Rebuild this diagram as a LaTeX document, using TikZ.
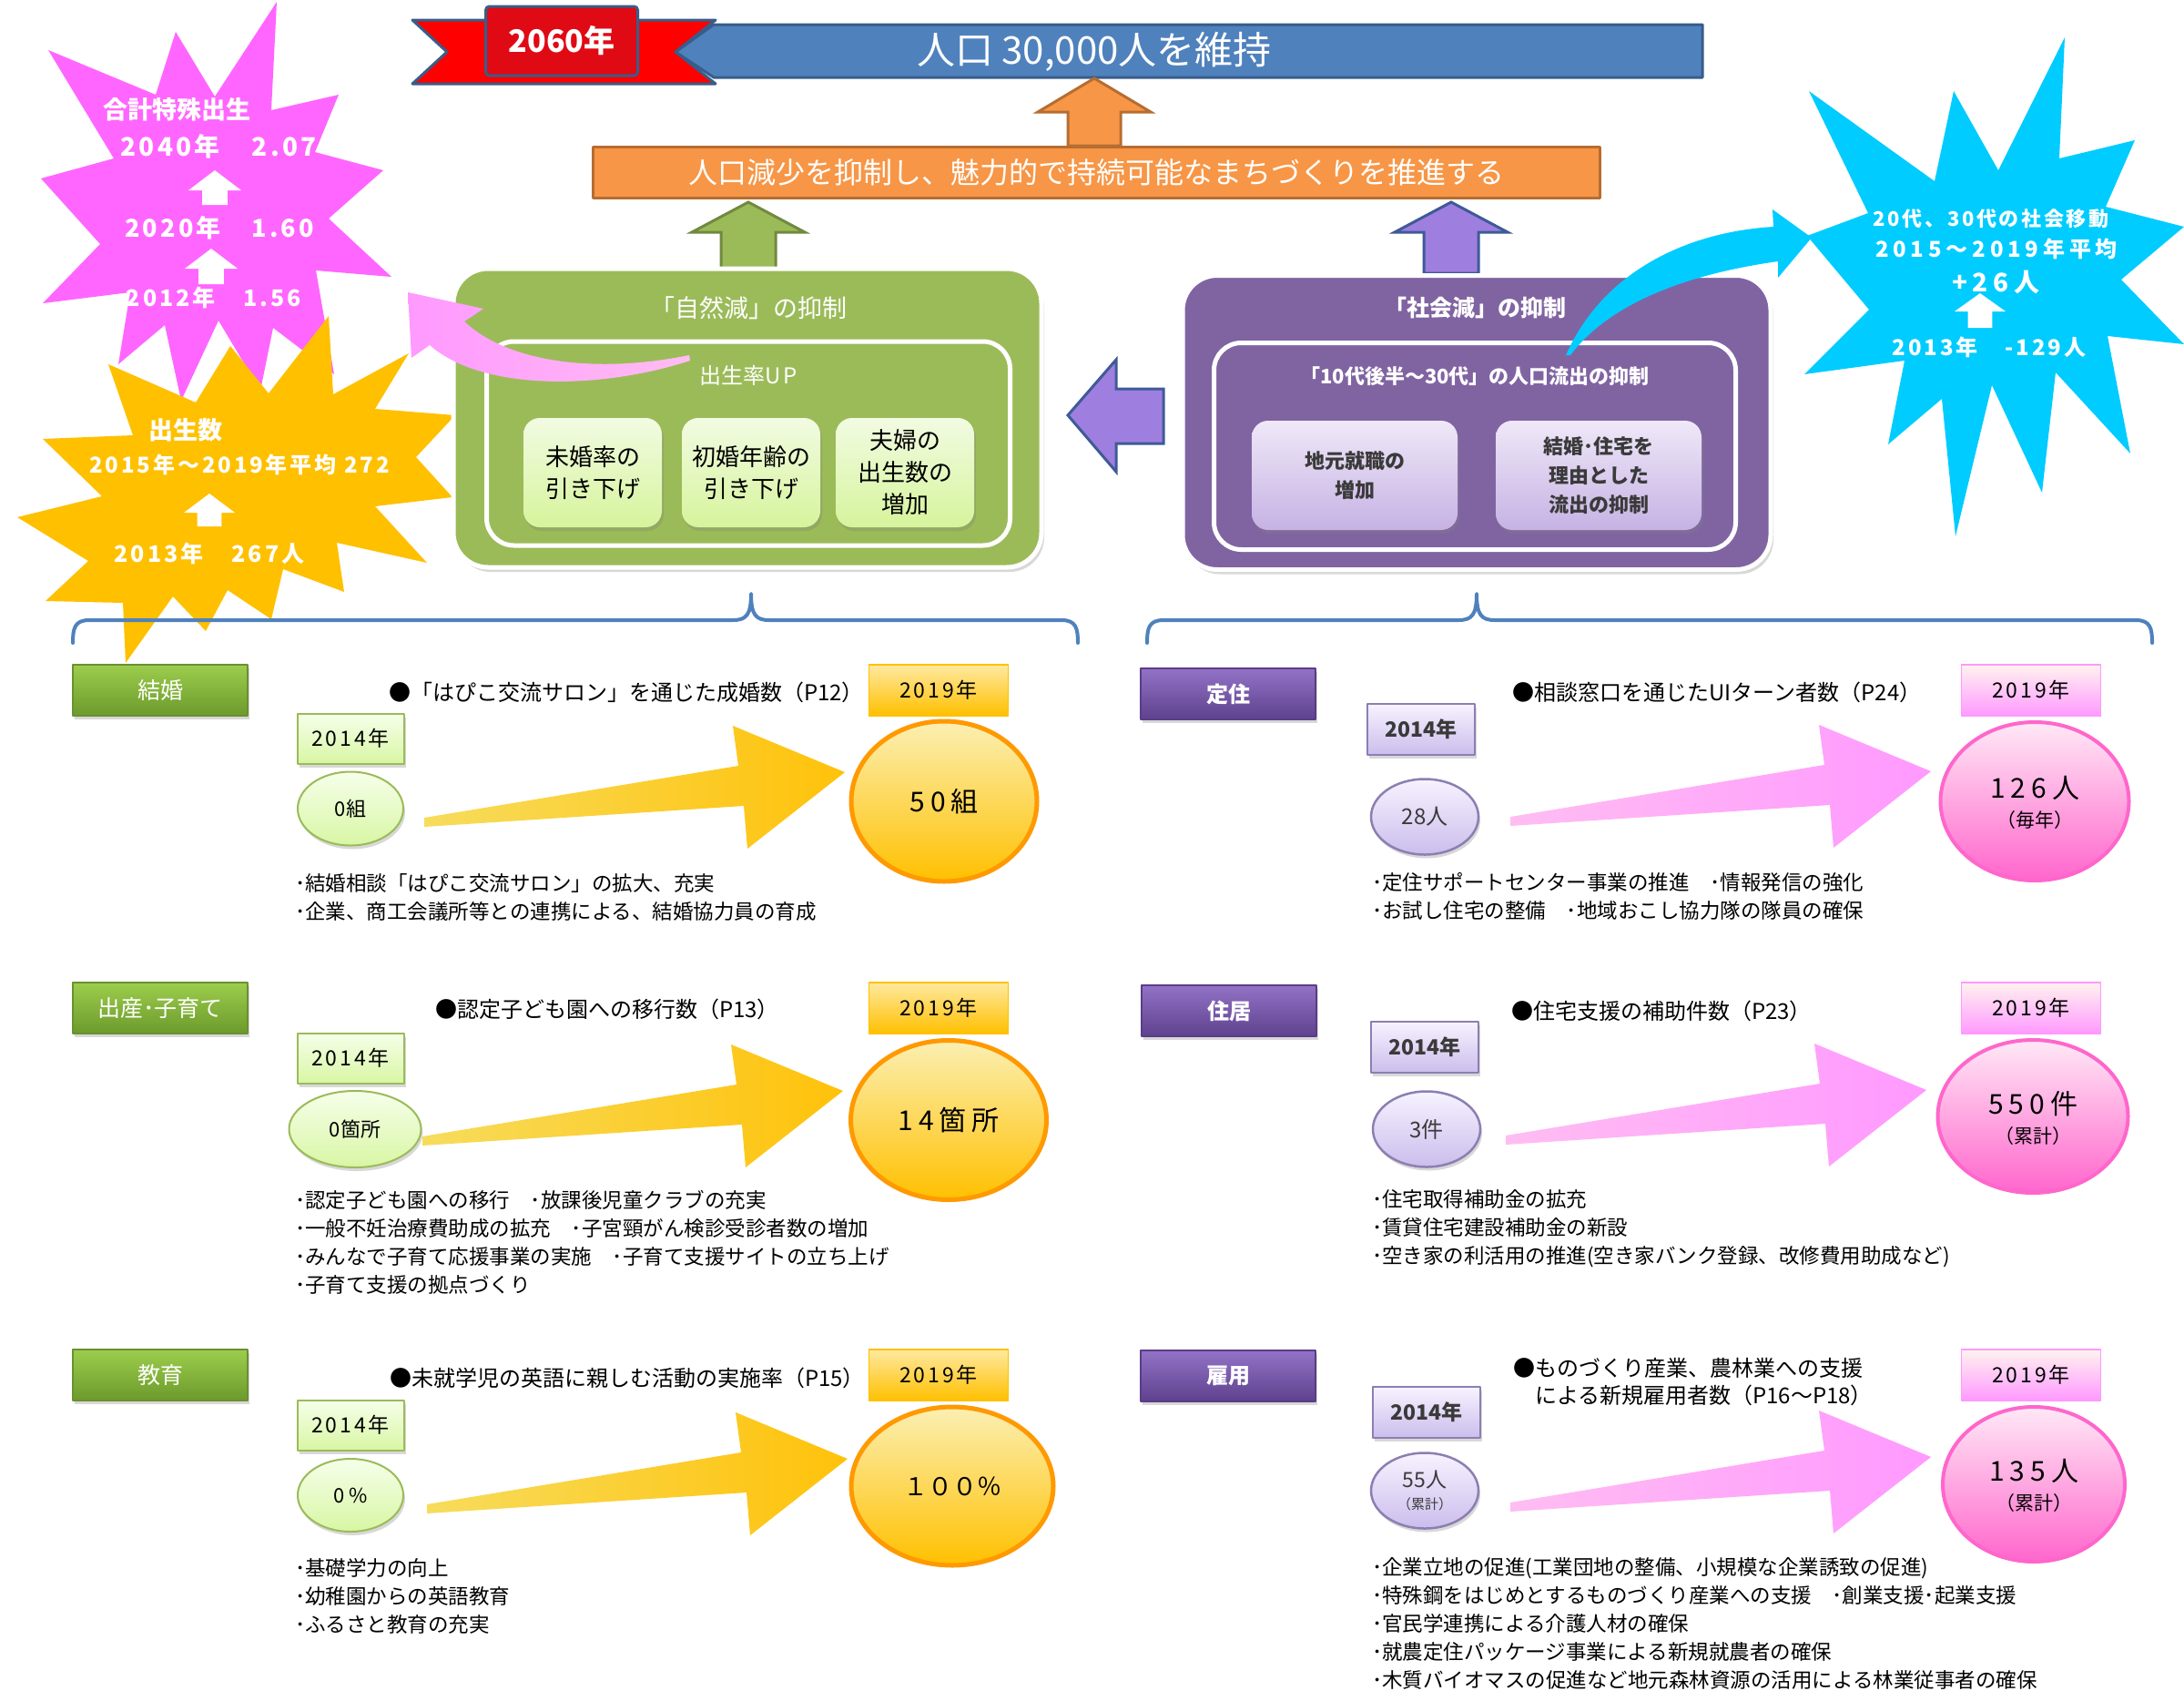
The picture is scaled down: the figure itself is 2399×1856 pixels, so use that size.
\documentclass[tikz,border=0pt]{standalone}
\usepackage{fontspec}
\setmainfont{Noto Sans CJK JP}
\newfontfamily\lsf[LetterSpace=12]{Noto Sans CJK JP}
\newfontfamily\lsw[LetterSpace=20]{Noto Sans CJK JP}
\usetikzlibrary{shapes.geometric,shadows}
\newcommand\fs[2]{\fontsize{#1pt}{#2pt}\selectfont}
\definecolor{stPink}{HTML}{FF66FF}
\definecolor{stOrange}{HTML}{FFC000}
\definecolor{stCyan}{HTML}{00CCFF}
\definecolor{rbRed}{HTML}{FF0000}
\definecolor{rbBox}{HTML}{E00A14}
\definecolor{rbLine}{HTML}{385D8A}
\definecolor{barBlue}{HTML}{4F81BD}
\definecolor{orFill}{HTML}{F79646}
\definecolor{orLine}{HTML}{B66D31}
\definecolor{grFill}{HTML}{9BBB59}
\definecolor{grLine}{HTML}{71893F}
\definecolor{puFill}{HTML}{8064A2}
\definecolor{laFill}{HTML}{9E7EDE}
\definecolor{laLine}{HTML}{3E5A98}
\definecolor{brBlue}{HTML}{4F81BD}
\definecolor{catG1}{HTML}{9CCD4C}
\definecolor{catG2}{HTML}{6C9A2C}
\definecolor{catGl}{HTML}{6C8F33}
\definecolor{catP1}{HTML}{9272C6}
\definecolor{catP2}{HTML}{5E418E}
\definecolor{catPl}{HTML}{5A3D86}
\definecolor{ltG1}{HTML}{F6FFEA}
\definecolor{ltG2}{HTML}{D8F6A4}
\definecolor{ltP1}{HTML}{F7F3FF}
\definecolor{ltP2}{HTML}{CBBDEC}
\definecolor{ltPl}{HTML}{8C7FB2}
\definecolor{yel1}{HTML}{FBEFB2}
\definecolor{yelB}{HTML}{FF9900}
\definecolor{pk1}{HTML}{FFE8F6}
\definecolor{pk2}{HTML}{FF99FF}
\definecolor{pk3}{HTML}{FF66CC}
\definecolor{yb1}{HTML}{FFE9A0}
\definecolor{pb1}{HTML}{FFF3EE}
\definecolor{subG1}{HTML}{F2FBE2}
\definecolor{subG2}{HTML}{D6F49C}
\definecolor{subP1}{HTML}{EFE8F8}
\definecolor{subP2}{HTML}{C6B2E4}
\definecolor{txGray}{HTML}{3A3A3A}
\definecolor{arY1}{HTML}{F7DC5C}
\definecolor{arY2}{HTML}{FFC20A}
\definecolor{arP1}{HTML}{FFBDF2}
\definecolor{arP2}{HTML}{FF99FF}
\newcommand\bigarrow[3]{\path[#3] (#1-462,#2+50) -- (#1-117,#2-7) -- (#1-123,#2-51) -- (#1,#2) -- (#1-107,#2+84) -- (#1-111,#2+37) -- (#1-462,#2+60) -- cycle;}
\newcommand\whitearrow[5]{\fill[white] (#1,#2) -- (#1+#5,#3) -- (#1+0.48*#5,#3) -- (#1+0.48*#5,#4) -- (#1-0.48*#5,#4) -- (#1-0.48*#5,#3) -- (#1-#5,#3) -- cycle;}
\begin{document}
\begin{tikzpicture}[x=1pt,y=-1pt,line join=round,
  every node/.style={inner sep=0pt,outer sep=0pt},
  shad/.style={drop shadow={opacity=.3,shadow xshift=2pt,shadow yshift=-4pt}},
  cat/.style={minimum width=192pt,minimum height=56pt,line width=1.2pt,shad,text=white,font=\fs{25}{30}},
  catG/.style={cat,top color=catG1,bottom color=catG2,draw=catGl},
  catP/.style={cat,top color=catP1,bottom color=catP2,draw=catPl,font=\bfseries\fs{24}{30}},
  yrG/.style={minimum width=117pt,minimum height=55pt,top color=ltG1,bottom color=ltG2,draw=grFill,line width=2pt,shad,font=\lsf\fs{23}{28}},
  yrP/.style={minimum width=118pt,minimum height=56pt,top color=ltP1,bottom color=ltP2,draw=ltPl,line width=2pt,shad,text=txGray,font=\bfseries\fs{23}{28}},
  yrO/.style={minimum width=153pt,minimum height=56pt,top color=yb1,bottom color=stOrange,draw=stOrange,line width=1.5pt,font=\lsf\fs{23}{28}},
  yrK/.style={minimum width=153pt,minimum height=56pt,top color=pb1,bottom color=pk2,draw=pk2,line width=1.5pt,font=\lsf\fs{23}{28}},
  cirG/.style={ellipse,top color=ltG1,bottom color=ltG2,draw=grFill,line width=2pt,shad,font=\fs{22}{26}},
  cirP/.style={ellipse,top color=ltP1,bottom color=ltP2,draw=ltPl,line width=2.5pt,shad,text=txGray,font=\fs{24}{28}},
  bigY/.style={ellipse,top color=yel1,middle color=stOrange,bottom color=stOrange,draw=yelB,line width=5pt,font=\lsw\fs{30}{36}},
  bigP/.style={ellipse,top color=pk1,middle color=pk2,bottom color=pk3,draw=pk3,line width=4pt},
  ttl/.style={font=\fs{24}{30}},
  bul/.style={anchor=north west,align=left,font=\fs{22.5}{31}},
  subG/.style={rounded corners=18pt,minimum width=152pt,minimum height=120pt,top color=subG1,bottom color=subG2,shad,align=center,font=\fs{26}{35}},
  subP/.style={rounded corners=18pt,minimum width=226pt,minimum height=120pt,top color=subP1,bottom color=subP2,shad,align=center,text=txGray,font=\bfseries\fs{22}{32}},
  brace/.style={draw=brBlue,line width=4pt,line cap=round},
  yArr/.style={left color=arY1,right color=arY2},
  pArr/.style={left color=arP1,right color=arP2},
  startxt/.style={text=white,font=\bfseries\lsf\fs{27}{30}}
]
\useasboundingbox (0,0) rectangle (2399,1856);
\fill[white] (0,0) rectangle (2399,1856);

% ---------- stars ----------
\fill[stPink] (304,2) -- (298,121) -- (372,104) -- (346,167) -- (421,187) -- (361,240) -- (430,304) -- (347,297) -- (367,411) -- (300,360) -- (286,429) -- (240,352) -- (199,440) -- (181,357) -- (130,400) -- (143,321) -- (47,333) -- (110,268) -- (45,196) -- (125,174) -- (53,55) -- (171,104) -- (193,35) -- (236,106) -- cycle;
\fill[stOrange] (361,347) -- (366,433) -- (449,388) -- (412,449) -- (500,456) -- (457,502) -- (497,546) -- (412,556) -- (469,618) -- (370,596) -- (378,650) -- (311,625) -- (298,680) -- (250,648) -- (226,693) -- (190,655) -- (138,728) -- (135,662) -- (50,660) -- (97,616) -- (19,568) -- (112,545) -- (47,482) -- (146,478) -- (119,400) -- (215,442) -- (253,380) -- (295,432) -- cycle;
\fill[stCyan] (2268,41) -- (2262,174) -- (2345,154) -- (2313,227) -- (2399,249) -- (2330,307) -- (2399,378) -- (2315,369) -- (2340,498) -- (2258,409) -- (2243,541) -- (2188,423) -- (2148,589) -- (2133,438) -- (2074,488) -- (2092,396) -- (1982,411) -- (2053,340) -- (1985,259) -- (2052,234) -- (1987,100) -- (2125,199) -- (2146,100) -- (2195,187) -- cycle;

% pink star text
\node[text=white,font=\bfseries\fs{27}{30}] (pk0) at (194,120) {合計特殊出生};
\node[startxt,font=\bfseries\lsf\fs{28}{32}] (pk1) at (240,161) {2040年　2.07};
\whitearrow{236}{187}{209}{225}{29}
\node[startxt] (pk2) at (241,250) {2020年　1.60};
\whitearrow{232}{273}{295}{312}{29}
\node[startxt,font=\bfseries\lsf\fs{25}{30}] (pk3) at (235,327) {2012年　1.56};
% orange star text
\node[text=white,font=\bfseries\fs{27}{30}] (or0) at (204,472) {出生数};
\node[text=white,font=\bfseries\lsf\fs{24}{28}] (or1) at (263,510) {2015年～2019年平均 272};
\whitearrow{230}{542}{563}{578}{28}
\node[startxt,font=\bfseries\lsf\fs{25}{30}] (or2) at (230,608) {2013年　267人};
% cyan star text
\node[text=white,font=\bfseries\lsf\fs{22}{26}] (cy0) at (2187,240) {20代、30代の社会移動};
\node[text=white,font=\bfseries\lsw\fs{24}{28}] (cy1) at (2193,273) {2015～2019年平均};
\node[text=white,font=\bfseries\lsw\fs{28}{32}] (cy2) at (2192,310) {+26人};
\whitearrow{2175}{322}{342}{360}{28}
\node[text=white,font=\bfseries\lsf\fs{24}{28}] (cy3) at (2185,381) {2013年　-129人};

% ---------- top banner ----------
\filldraw[fill=rbRed,draw=rbLine,line width=3pt] (453,22) -- (786,22) -- (742,57) -- (786,92) -- (453,92) -- (491,57) -- cycle;
\filldraw[fill=barBlue,draw=rbLine,line width=3pt] (742,57) -- (784,27) -- (1870,27) -- (1870,85) -- (784,85) -- cycle;
\node[fill=rbBox,draw=rbLine,line width=3pt,rounded corners=4pt,minimum width=167pt,minimum height=76pt,text=white,font=\bfseries\fs{34}{40}] (yr60) at (617,45) {2060年};
\node[text=white,font=\fs{42}{48}] (goal) at (1202,57) {人口 30,000人を維持};
\filldraw[fill=orFill,draw=orLine,line width=3pt,line join=miter] (1202,86) -- (1264,123) -- (1231,123) -- (1231,160) -- (1173,160) -- (1173,123) -- (1140,123) -- cycle;
\node[fill=orFill,draw=orLine,line width=3pt,minimum width=1106pt,minimum height=56pt,text=white,font=\fs{32}{36}] (mission) at (1204,189) {人口減少を抑制し、魅力的で持続可能なまちづくりを推進する};
\filldraw[fill=grFill,draw=grLine,line width=3pt,line join=miter] (822,222) -- (884,255) -- (852,255) -- (852,297) -- (792,297) -- (792,255) -- (760,255) -- cycle;
\filldraw[fill=laFill,draw=laLine,line width=3pt,line join=miter] (1594,222) -- (1656,255) -- (1624,255) -- (1624,300) -- (1564,300) -- (1564,255) -- (1532,255) -- cycle;

% ---------- natural decrease box ----------
\node[draw=white,line width=5pt,fill=grFill,rounded corners=38pt,minimum width=646pt,minimum height=328pt,drop shadow={opacity=.3,shadow xshift=3pt,shadow yshift=-5pt}] (nat) at (821,459) {};
\node[text=white,font=\fs{27}{32}] (natT) at (822,338) {「自然減」の抑制};
\node[draw=white,line width=5pt,rounded corners=30pt,minimum width=575pt,minimum height=224pt] (natIn) at (822,487) {};
\node[text=white,font=\fs{24}{28}] (natL) at (822,412) {出生率\lsf UP};
\node[subG] (g1) at (651,519) {未婚率の\\引き下げ};
\node[subG] (g2) at (825,519) {初婚年齢の\\引き下げ};
\node[subG] (g3) at (994,519) {夫婦の\\出生数の\\増加};

% ---------- social decrease box ----------
\node[draw=white,line width=5pt,fill=puFill,rounded corners=38pt,minimum width=646pt,minimum height=323pt,drop shadow={opacity=.3,shadow xshift=3pt,shadow yshift=-5pt}] (soc) at (1622,464) {};
\node[text=white,font=\bfseries\fs{25}{30}] (socT) at (1620,338) {「社会減」の抑制};
\node[draw=white,line width=5pt,rounded corners=30pt,minimum width=573pt,minimum height=227pt] (socIn) at (1620,490) {};
\node[text=white,font=\bfseries\fs{22}{26}] (socL) at (1620,413) {「10代後半～30代」の人口流出の抑制};
\node[subP] (p1) at (1488,522) {地元就職の\\増加};
\node[subP] (p2) at (1756,522) {結婚･住宅を\\理由とした\\流出の抑制};

% left purple arrow
\filldraw[fill=laFill,draw=laLine,line width=3pt,line join=miter] (1173,456) -- (1226,395) -- (1226,427) -- (1278,427) -- (1278,487) -- (1226,487) -- (1226,518) -- cycle;

% curved arrows
\path[left color=arP2,right color=arP1] (757,390) .. controls (660,410) and (560,400) .. (510,353) -- (531,339) -- (448,321) -- (452,393) -- (472,379) .. controls (530,430) and (660,428) .. (758,396) -- cycle;
\fill[stCyan] (1720,390) .. controls (1760,300) and (1850,255) .. (1948,249) -- (1947,230) -- (1990,261) -- (1953,305) -- (1953,287) .. controls (1860,300) and (1770,330) .. (1725,390) -- cycle;

% ---------- braces ----------
\draw[brace] (80,706) .. controls (80,690) and (82,681) .. (98,681) -- (805,681) .. controls (820,681) and (825,675) .. (825,652) .. controls (825,675) and (830,681) .. (845,681) -- (1166,681) .. controls (1182,681) and (1184,690) .. (1184,706);
\draw[brace] (1260,706) .. controls (1260,690) and (1262,681) .. (1278,681) -- (1602,681) .. controls (1617,681) and (1622,675) .. (1622,652) .. controls (1622,675) and (1627,681) .. (1642,681) -- (2346,681) .. controls (2362,681) and (2364,690) .. (2364,706);

% ---------- left row 1 ----------
\node[catG] (c1) at (176,758) {結婚};
\node[ttl] (t1) at (688,760) {●「はぴこ交流サロン」を通じた成婚数（P12）};
\node[yrO] (b1) at (1031,758) {2019年};
\node[yrG] (a1) at (385,811) {2014年};
\node[cirG,minimum width=116pt,minimum height=81pt] (s1) at (385,888) {0組};
\bigarrow{928}{848}{yArr}
\node[bigY,minimum width=204pt,minimum height=176pt] (L1) at (1037,880) {50組};
\node[bul] (u1) at (324,959) {･結婚相談「はぴこ交流サロン」の拡大、充実\\･企業、商工会議所等との連携による、結婚協力員の育成};

% ---------- left row 2 ----------
\node[catG] (c2) at (176,1107) {出産･子育て};
\node[ttl] (t2) at (667,1108) {●認定子ども園への移行数（P13）};
\node[yrO] (b2) at (1031,1107) {2019年};
\node[yrG] (a2) at (385,1162) {2014年};
\node[cirG,minimum width=145pt,minimum height=84pt] (s2) at (390,1240) {0箇所};
\bigarrow{926}{1198}{yArr}
\node[bigY,minimum width=215pt,minimum height=175pt] (L2) at (1042,1230) {14箇所};
\node[bul] (u2) at (324,1307) {･認定子ども園への移行　･放課後児童クラブの充実\\･一般不妊治療費助成の拡充　･子宮頸がん検診受診者数の増加\\･みんなで子育て応援事業の実施　･子育て支援サイトの立ち上げ\\･子育て支援の拠点づくり};

% ---------- left row 3 ----------
\node[catG] (c3) at (176,1510) {教育};
\node[ttl] (t3) at (689,1513) {●未就学児の英語に親しむ活動の実施率（P15）};
\node[yrO] (b3) at (1031,1510) {2019年};
\node[yrG] (a3) at (385,1565) {2014年};
\node[cirG,minimum width=116pt,minimum height=80pt,font=\lsw\fs{22}{26}] (s3) at (385,1642) {0\%};
\bigarrow{931}{1602}{yArr}
\node[bigY,minimum width=222pt,minimum height=174pt,font=\fs{27}{32}] (L3) at (1046,1632) {１００％};
\node[bul] (u3) at (324,1711) {･基礎学力の向上\\･幼稚園からの英語教育\\･ふるさと教育の充実};

% ---------- right row 1 ----------
\node[catP] (c4) at (1349,762) {定住};
\node[ttl] (t4) at (1886,760) {●相談窓口を通じたUIターン者数（P24）};
\node[yrK] (b4) at (2231,758) {2019年};
\node[yrP] (a4) at (1561,801) {2014年};
\node[cirP,minimum width=118pt,minimum height=83pt] (s4) at (1565,897) {28人};
\bigarrow{2121}{847}{pArr}
\node[bigP,minimum width=207pt,minimum height=174pt] (L4) at (2235,880) {};
\node[font=\lsw\fs{30}{36}] (L4a) at (2235,865) {126人};
\node[font=\fs{21}{26}] (L4b) at (2235,901) {（毎年）};
\node[bul] (u4) at (1507,958) {･定住サポートセンター事業の推進　･情報発信の強化\\･お試し住宅の整備　･地域おこし協力隊の隊員の確保};

% ---------- right row 2 ----------
\node[catP] (c5) at (1350,1110) {住居};
\node[ttl] (t5) at (1825,1110) {●住宅支援の補助件数（P23）};
\node[yrK] (b5) at (2231,1107) {2019年};
\node[yrP] (a5) at (1565,1150) {2014年};
\node[cirP,minimum width=118pt,minimum height=83pt] (s5) at (1567,1240) {3件};
\bigarrow{2116}{1197}{pArr}
\node[bigP,minimum width=209pt,minimum height=168pt] (L5) at (2233,1226) {};
\node[font=\lsw\fs{30}{36}] (L5a) at (2233,1212) {550件};
\node[font=\fs{21}{26}] (L5b) at (2233,1248) {（累計）};
\node[bul] (u5) at (1507,1307) {･住宅取得補助金の拡充\\･賃貸住宅建設補助金の新設\\･空き家の利活用の推進(空き家バンク登録、改修費用助成など)};

% ---------- right row 3 ----------
\node[catP] (c6) at (1349,1511) {雇用};
\node[ttl,anchor=north west,align=left] (t6) at (1662,1491) {●ものづくり産業、農林業への支援\\\hspace{1em}による新規雇用者数（P16～P18）};
\node[yrK] (b6) at (2231,1510) {2019年};
\node[yrP] (a6) at (1567,1551) {2014年};
\node[cirP,minimum width=118pt,minimum height=83pt] (s6) at (1565,1637) {};
\node[text=txGray,font=\fs{23}{28}] (s6a) at (1565,1625) {55人};
\node[text=txGray,font=\fs{15}{18}] (s6b) at (1565,1652) {（累計）};
\bigarrow{2121}{1600}{pArr}
\node[bigP,minimum width=200pt,minimum height=170pt] (L6) at (2234,1630) {};
\node[font=\lsw\fs{30}{36}] (L6a) at (2234,1615) {135人};
\node[font=\fs{21}{26}] (L6b) at (2234,1650) {（累計）};
\node[bul] (u6) at (1507,1711) {･企業立地の促進(工業団地の整備、小規模な企業誘致の促進)\\･特殊鋼をはじめとするものづくり産業への支援　･創業支援･起業支援\\･官民学連携による介護人材の確保\\･就農定住パッケージ事業による新規就農者の確保\\･木質バイオマスの促進など地元森林資源の活用による林業従事者の確保};
\end{tikzpicture}
\end{document}
